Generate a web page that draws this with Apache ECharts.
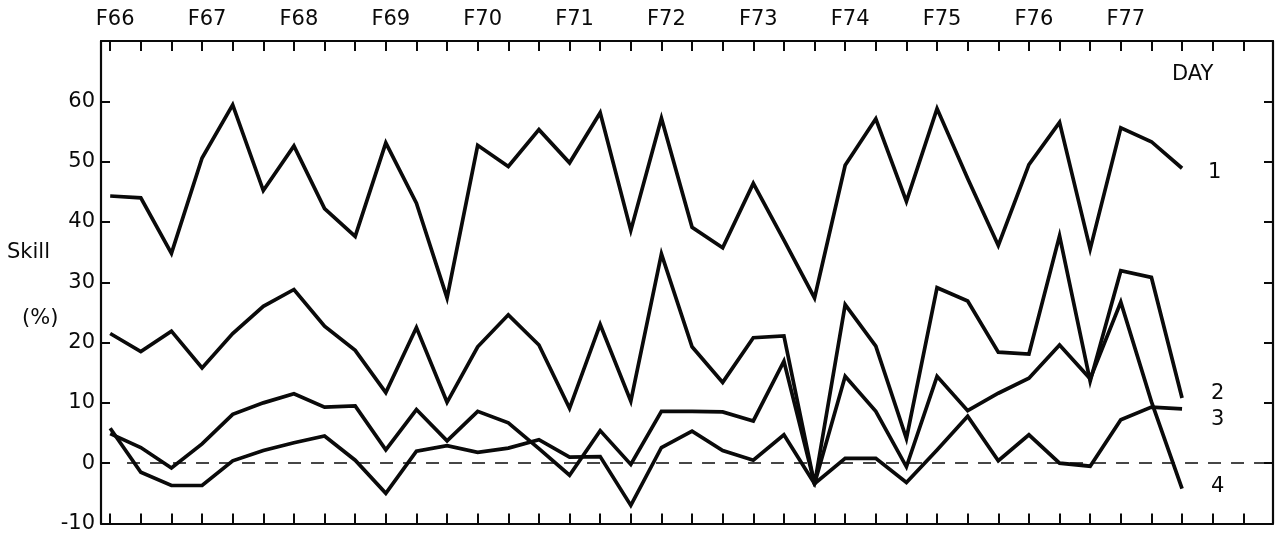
<!DOCTYPE html>
<html>
<head>
<meta charset="utf-8">
<script src="https://cdn.jsdelivr.net/npm/echarts@6/dist/echarts.min.js"></script>
<style>
  html, body { margin: 0; padding: 0; background: #fff; }
  #chart { width: 1276px; height: 534px; }
</style>
</head>
<body>
<div id="chart"></div>
<script>
// Winter seasons marked along the top axis, one every three forecast periods
const seasonLabels = ['F66', 'F67', 'F68', 'F69', 'F70', 'F71', 'F72', 'F73', 'F74', 'F75', 'F76', 'F77'];
const periodsPerSeason = 3;

// Forecast skill (%) for each lead day
const day1 = [44.3, 44.0, 34.8, 50.6, 59.4, 45.2, 52.6, 42.2, 37.6, 53.1,
              43.1, 27.4, 52.7, 49.2, 55.3, 49.8, 58.1, 38.6, 57.2, 39.1,
              35.7, 46.4, 37.0, 27.4, 49.4, 57.1, 43.4, 58.8, 47.2, 36.1,
              49.5, 56.5, 35.5, 55.6, 53.3, 48.9];
const day2 = [21.5, 18.5, 21.9, 15.8, 21.5, 26.0, 28.8, 22.7, 18.7, 11.7,
              22.5, 10.1, 19.3, 24.6, 19.6, 9.1, 23.0, 10.3, 34.7, 19.3,
              13.4, 20.8, 21.1, -3.5, 26.3, 19.4, 4.1, 29.1, 26.9, 18.4,
              18.1, 37.7, 13.6, 31.9, 30.8, 10.8];
const day3 = [4.9, 2.6, -0.8, 3.2, 8.1, 10.0, 11.5, 9.3, 9.5, 2.2,
              8.9, 3.7, 8.6, 6.7, 2.4, -2.0, 5.4, -0.2, 8.6, 8.6,
              8.5, 7.0, 16.9, -3.4, 0.8, 0.8, -3.2, 2.2, 7.8, 0.4,
              4.7, 0.0, -0.5, 7.2, 9.3, 9.0];
const day4 = [5.8, -1.5, -3.7, -3.7, 0.4, 2.1, 3.4, 4.5, 0.5, -5.0,
              2.0, 2.9, 1.8, 2.5, 3.9, 1.0, 1.1, -7.0, 2.6, 5.3,
              2.1, 0.5, 4.7, -3.4, 14.4, 8.6, -0.6, 14.4, 8.7, 11.6,
              14.1, 19.6, 14.0, 26.7, 10.2, -4.2];

const dayNames = ['1', '2', '3', '4'];
const dayValues = [day1, day2, day3, day4];

// Axis extents
const xMin = -0.3, xMax = 37.97;
const yMin = -10, yMax = 70, yStep = 10;

const FONT = '"DejaVu Sans", "Liberation Sans", sans-serif';
const INK = '#0a0a0a';

// End-label nudges (pixels) so the day numbers sit right of the curves
const endOffsets = [[26, 4], [29, -5], [29, 11], [29, -2]];

const chart = echarts.init(document.getElementById('chart'), null, { renderer: 'canvas' });

const frameLine = { show: true, onZero: false, lineStyle: { color: INK, width: 2.2 } };
const xTicks = { show: true, inside: true, length: 10, lineStyle: { color: INK, width: 2 } };
const yTicks = { show: true, inside: true, length: 9, lineStyle: { color: INK, width: 2 } };

const series = dayValues.map((vals, k) => ({
  name: dayNames[k],
  type: 'line',
  xAxisIndex: 0,
  yAxisIndex: 0,
  data: vals.map((v, i) => [i, v]),
  symbol: 'none',
  silent: true,
  animation: false,
  lineStyle: { color: INK, width: 3.7, join: 'miter', miterLimit: 5 },
  endLabel: {
    show: true,
    formatter: dayNames[k],
    distance: 0,
    offset: endOffsets[k],
    color: INK,
    fontFamily: FONT,
    fontSize: 21
  }
}));

// dashed zero reference line
series[3].markLine = {
  silent: true,
  animation: false,
  symbol: 'none',
  label: { show: false },
  lineStyle: { color: INK, width: 1.6, type: [13, 10] },
  data: [[{ coord: [0.55, 0] }, { coord: [xMax, 0] }]]
};

chart.setOption({
  backgroundColor: '#fff',
  animation: false,
  grid: { left: 101, right: 3, top: 41, bottom: 7, containLabel: false },
  xAxis: [
    {
      type: 'value', position: 'top', min: xMin, max: xMax,
      minInterval: 1, maxInterval: 1,
      axisLine: frameLine, axisTick: xTicks, splitLine: { show: false },
      axisLabel: {
        show: true, margin: 11, color: INK, fontFamily: FONT, fontSize: 21,
        padding: [0, 0, 0, 10],
        formatter: v => {
          if (!Number.isInteger(v) || v % periodsPerSeason !== 0) return '';
          const s = seasonLabels[v / periodsPerSeason];
          return s || '';
        }
      }
    },
    {
      type: 'value', position: 'bottom', min: xMin, max: xMax,
      minInterval: 1, maxInterval: 1,
      axisLine: frameLine, axisTick: xTicks, splitLine: { show: false },
      axisLabel: { show: false }
    }
  ],
  yAxis: [
    {
      type: 'value', position: 'left', min: yMin, max: yMax, interval: yStep,
      axisLine: frameLine, axisTick: yTicks, splitLine: { show: false },
      axisLabel: {
        show: true, margin: 6, color: INK, fontFamily: FONT, fontSize: 21,
        showMaxLabel: false
      }
    },
    {
      type: 'value', position: 'right', min: yMin, max: yMax, interval: yStep,
      axisLine: frameLine, axisTick: yTicks, splitLine: { show: false },
      axisLabel: { show: false }
    }
  ],
  graphic: [
    { type: 'text', left: 7, top: 242, style: { text: 'Skill', fill: INK, font: '21px ' + FONT } },
    { type: 'text', left: 22, top: 308, style: { text: '(%)', fill: INK, font: '21px ' + FONT } },
    { type: 'text', left: 1172, top: 64, style: { text: 'DAY', fill: INK, font: '21px ' + FONT } }
  ],
  series: series
});
</script>
</body>
</html>
